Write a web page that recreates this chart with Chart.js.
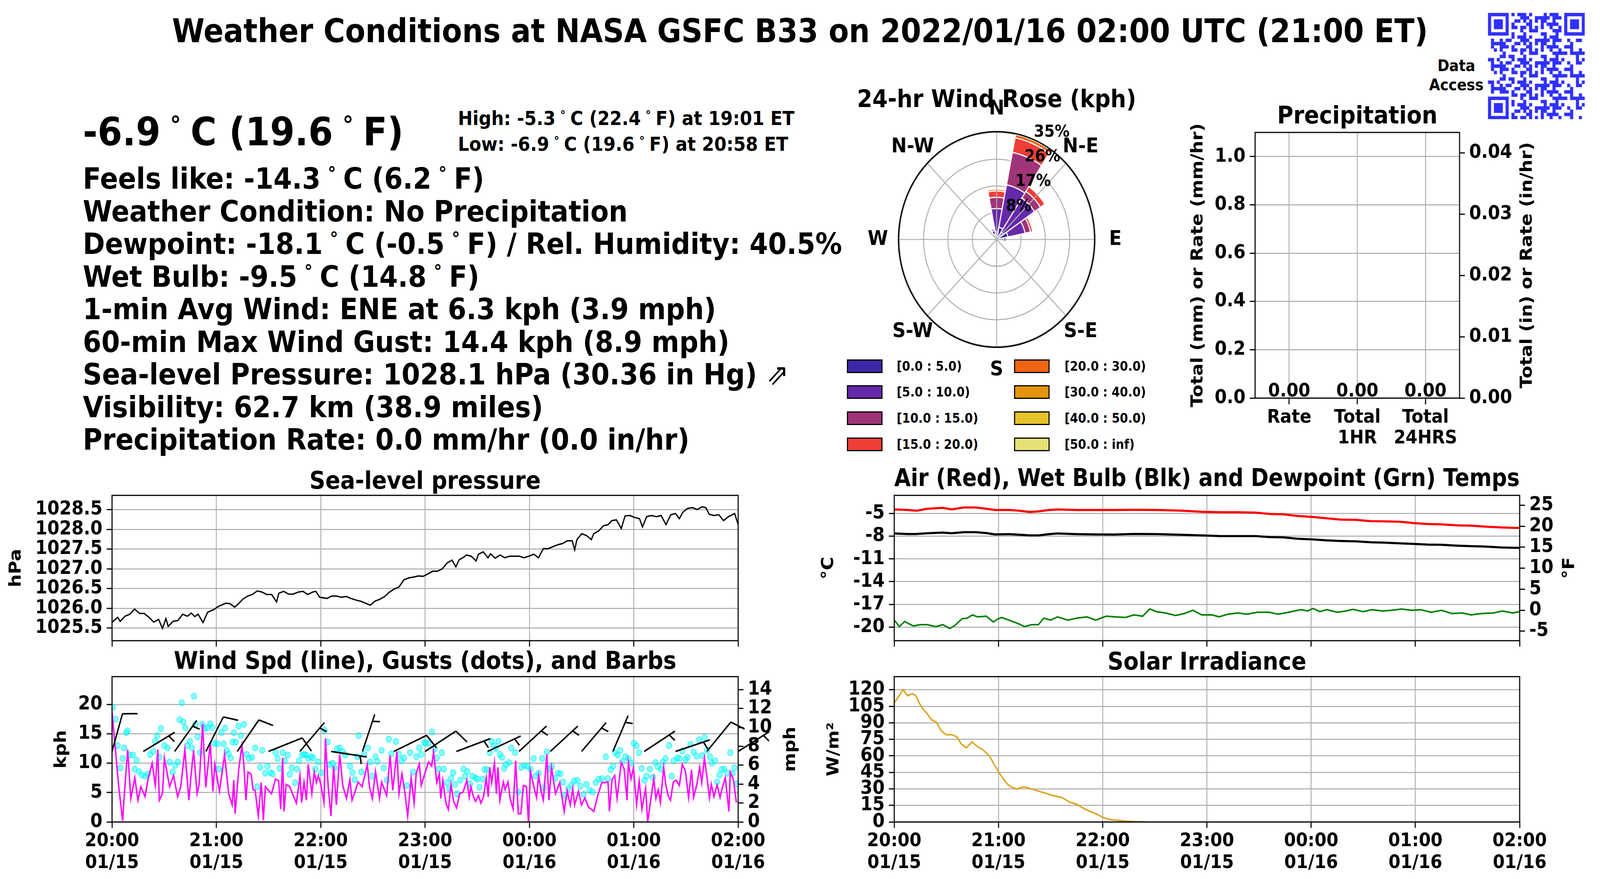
<!DOCTYPE html>
<html>
<head>
<meta charset="utf-8">
<script src="https://cdn.jsdelivr.net/npm/chart.js@4.4.1/dist/chart.umd.min.js"></script>
<style>
  html, body { margin: 0; padding: 0; overflow: hidden; background: #fff; }
  #wrap { position: relative; overflow: hidden; width: 0; height: 0; }
  #page { position: absolute; left: 0; top: 0; width: 4500px; height: 2250px; transform-origin: 0 0;
          font-family: 'DejaVu Sans', sans-serif; font-weight: bold; color: #000; background: #fff; }
  canvas { position: absolute; }
  .t { position: absolute; white-space: nowrap; line-height: 1; }
  .dg { font-size: .62em; vertical-align: .5em; margin: 0 .43em; }
  .lg { position: absolute; width: 94px; height: 29px; border: 3px solid #000; }
  .lt { position: absolute; font-size: 33px; line-height: 1; white-space: nowrap; }
</style>
</head>
<body>
<div id="wrap">
<div id="page">

<div class="t" style="left:0;top:38px;width:4500px;text-align:center;font-size:83px">Weather Conditions at NASA GSFC B33 on 2022/01/16 02:00 UTC (21:00 ET)</div>

<div class="t" style="left:233px;top:288px;font-size:100px">-6.9<span class="dg">°</span>C (19.6<span class="dg">°</span>F)</div>
<div class="t" style="left:1288px;top:279px;font-size:49.5px">High: -5.3<span class="dg">°</span>C (22.4<span class="dg">°</span>F) at 19:01 ET</div>
<div class="t" style="left:1288px;top:345px;font-size:49.5px">Low: -6.9<span class="dg">°</span>C (19.6<span class="dg">°</span>F) at 20:58 ET</div>

<div class="t" style="left:233px;top:420px;font-size:75px">Feels like: -14.3<span class="dg">°</span>C (6.2<span class="dg">°</span>F)</div>
<div class="t" style="left:233px;top:504px;font-size:75px">Weather Condition: No Precipitation</div>
<div class="t" style="left:233px;top:587px;font-size:75px">Dewpoint: -18.1<span class="dg">°</span>C (-0.5<span class="dg">°</span>F) / Rel. Humidity: 40.5%</div>
<div class="t" style="left:233px;top:671px;font-size:75px">Wet Bulb: -9.5<span class="dg">°</span>C (14.8<span class="dg">°</span>F)</div>
<div class="t" style="left:233px;top:754px;font-size:75px">1-min Avg Wind: ENE at 6.3 kph (3.9 mph)</div>
<div class="t" style="left:233px;top:838px;font-size:75px">60-min Max Wind Gust: 14.4 kph (8.9 mph)</div>
<div class="t" style="left:233px;top:921px;font-size:75px">Sea-level Pressure: 1028.1 hPa (30.36 in Hg) <span style="font-weight:normal">&#8663;</span></div>
<div class="t" style="left:233px;top:1005px;font-size:75px">Visibility: 62.7 km (38.9 miles)</div>
<div class="t" style="left:233px;top:1088px;font-size:75px">Precipitation Rate: 0.0 mm/hr (0.0 in/hr)</div>

<div class="t" style="left:3946px;top:144px;width:300px;text-align:center;font-size:40px;line-height:49px;white-space:normal">Data<br>Access</div>
<canvas id="qr" width="272" height="272" style="left:4185px;top:33px"></canvas>

<canvas id="cPrecip" width="1040" height="920" style="left:3300px;top:230px"></canvas>
<canvas id="cRose" width="760" height="760" style="left:2423px;top:233px"></canvas>
<div class="t" style="left:2203px;top:222px;width:1200px;text-align:center;font-size:62px">24-hr Wind Rose (kph)</div>
<div id="roseLegend"></div>

<canvas id="cPress" width="2390" height="520" style="left:0;top:1180px"></canvas>
<canvas id="cWind" width="2390" height="585" style="left:0;top:1665px"></canvas>
<canvas id="cTemp" width="2220" height="520" style="left:2280px;top:1180px"></canvas>
<canvas id="cSolar" width="2220" height="585" style="left:2280px;top:1665px"></canvas>

</div>
</div>
<script>
// stretch the 4500x2250 page over the whole viewport we are given
const SX = window.innerWidth / 4500, SY = window.innerHeight / 2250;
const wrap = document.getElementById('wrap');
wrap.style.width = window.innerWidth + 'px';
wrap.style.height = window.innerHeight + 'px';
document.getElementById('page').style.transform = 'scale(' + SX + ',' + SY + ')';

// ---------- DATA ----------
const hourTicks = [0, 60, 120, 180, 240, 300, 360];          // minutes after 20:00 01/15
const hourLabels = ['20:00', '21:00', '22:00', '23:00', '00:00', '01:00', '02:00'];
const dateLabels = ['01/15', '01/15', '01/15', '01/15', '01/16', '01/16', '01/16'];

// sea-level pressure [minute, hPa]
const pressure = [
  [0,1025.65],[3.3,1025.77],[4.7,1025.67],[7.5,1025.80],[10.2,1025.85],[13,1025.98],[15.8,1025.87],[18.5,1025.87],
  [21.3,1025.77],[24,1025.65],[26.8,1025.72],[29,1025.49],[31,1025.74],[32.3,1025.54],[35.1,1025.67],[37.9,1025.69],
  [40.6,1025.85],[43.4,1025.80],[45.6,1025.88],[47.6,1025.79],[49.5,1025.85],[52.3,1025.64],[55,1025.90],[58.6,1025.97],
  [60.5,1026.03],[62.8,1026.08],[65.5,1026.13],[67.7,1026.12],[70.5,1026.03],[72.4,1026.10],[75.2,1026.23],[78,1026.31],
  [80.7,1026.35],[83.5,1026.44],[86.3,1026.41],[89,1026.35],[91.8,1026.35],[94.6,1026.16],[95.9,1026.38],[98.7,1026.43],
  [101.5,1026.36],[104.2,1026.36],[107,1026.41],[109.8,1026.43],[112.5,1026.35],[115.3,1026.41],[117.2,1026.43],[119.4,1026.28],
  [123.6,1026.25],[126.3,1026.31],[129.1,1026.31],[131.9,1026.28],[134.6,1026.30],[137.4,1026.25],[140.2,1026.21],[142.9,1026.18],
  [145.7,1026.13],[148.5,1026.08],[151.2,1026.18],[154,1026.23],[156.8,1026.30],[159.5,1026.41],[162.3,1026.49],[165,1026.54],
  [167.8,1026.72],[170.6,1026.77],[173.3,1026.79],[176.1,1026.82],[178.9,1026.81],[181.6,1026.87],[184.4,1026.94],[187.2,1026.94],
  [189.9,1027.00],[192.7,1027.15],[195.5,1027.22],[197.7,1027.05],[199.6,1027.23],[202.4,1027.30],[203.8,1027.35],[206.5,1027.32],
  [209.3,1027.20],[210.7,1027.37],[213.4,1027.43],[216.2,1027.28],[217.6,1027.38],[220.3,1027.27],[223.1,1027.35],[225.9,1027.28],
  [228.6,1027.32],[231.4,1027.32],[234.2,1027.32],[236.9,1027.28],[239.7,1027.32],[242.5,1027.37],[245.2,1027.28],[248,1027.51],
  [250.8,1027.51],[253.5,1027.56],[256.3,1027.61],[259.1,1027.64],[261.8,1027.71],[264.6,1027.71],[266,1027.48],[267.3,1027.74],
  [270.1,1027.89],[272.9,1027.84],[275.6,1027.74],[277,1027.89],[279.8,1027.96],[282.6,1028.09],[285.3,1028.12],[287.3,1028.22],
  [290,1028.24],[292.8,1028.02],[295,1028.34],[297.8,1028.35],[300.5,1028.30],[303.3,1028.27],[305,1028.06],[307.4,1028.32],
  [310.2,1028.35],[313,1028.32],[315.7,1028.35],[318.5,1028.12],[321.3,1028.37],[324,1028.40],[326.2,1028.27],[328.2,1028.43],
  [330.9,1028.53],[333.7,1028.55],[336.5,1028.50],[339.2,1028.57],[341.4,1028.55],[343.4,1028.38],[346.1,1028.35],[348.9,1028.37],
  [351.6,1028.22],[354.4,1028.32],[358,1028.40],[360,1028.12]
];
const pressTicks = [1025.5, 1026.0, 1026.5, 1027.0, 1027.5, 1028.0, 1028.5];

// 1-min wind speed [minute, kph]
const windSpd = [
  [0,18.8],[3.8,6.2],[6.1,0.2],[7.3,5.6],[9,12.3],[10.8,4],[13.1,7.5],[14.9,3.7],[16.6,6],[19,4.3],[20.8,7.4],[23.1,10],
  [24.9,6.2],[26.3,12.3],[27.2,3.7],[29,4.8],[30.1,10.9],[33.1,6],[35.4,7.9],[37.7,4.3],[39.5,6],[41.9,12.3],[44.2,3.7],
  [45.4,7.8],[46.9,12.2],[48.9,4.8],[50.1,6.4],[52.1,16.7],[53.9,5.9],[56.5,13.4],[58,5.2],[59.1,9.8],[61.8,5.2],[64.7,11.5],
  [67.1,4.8],[69.1,2.9],[70,7.1],[70.8,1.4],[72.9,9.1],[74.7,13],[75.8,9.8],[77,3.7],[78.2,8.5],[80,8.1],[81.1,5.5],[82.3,5.4],
  [84.1,1],[85.8,6.7],[87,0.3],[88.2,6],[89.9,5.4],[91.7,4.8],[94,7.3],[95.8,7],[97,2.2],[98.1,10.9],[98.9,1.8],[100.1,6.4],
  [102.2,6],[104.6,4.2],[106,3.2],[108.1,7.9],[109,3.3],[110.4,6.8],[111.8,3.7],[112.8,9.8],[114.9,4.8],[116.3,8.5],[117.5,6.7],
  [118.6,7.9],[119.8,6.7],[121.9,3.3],[122.7,14.2],[124.3,6],[125.9,1],[127.4,9.5],[129,2.9],[130.9,11.5],[132.7,6.2],[134.8,4],
  [136.8,7.2],[138,3.7],[139.7,5.1],[141.5,6.8],[143.8,6],[146.8,9.8],[148,6],[149.7,4],[151.5,8.6],[153.8,4],[155,6.8],
  [157.9,4.5],[159.9,11.3],[161.4,5.4],[163.8,12],[165,4.8],[166.7,8.2],[168.5,4.8],[170,1],[172,7.5],[173.7,3.2],[174.9,8.3],
  [176.7,9.9],[177.8,6.2],[180,8.4],[182,10.2],[183.8,9.5],[184.9,12],[186.7,6.7],[188.2,8.2],[189,4],[190.2,7.1],[192,3.2],
  [193.4,2.1],[194.9,6.4],[196.4,3.5],[198.1,2.4],[199.9,4.8],[201.9,5.1],[204,7.1],[205.4,4.2],[206.3,6],[207.8,4.3],[209,3.5],
  [210.7,4.5],[212.1,3.2],[213.6,4.3],[215.2,7.5],[216.3,4.3],[217.2,9.3],[218.3,6.7],[219.9,10.1],[221,4.8],[221.9,9.3],[223,3.7],
  [225,6.8],[226,5.5],[227.7,6.8],[228.9,4],[230.6,2.2],[232.1,10.4],[233.6,1.4],[235.1,1.4],[236.5,6.2],[238.3,6],[239.4,0],
  [240.6,8.6],[243,5.4],[244.1,4.1],[245.3,7.9],[246.5,5.5],[248,3.7],[250,11.5],[251.2,3.7],[252.7,9.3],[255,4.8],[257.4,6.7],
  [260,1.8],[261.7,5.3],[263.5,2.9],[264.9,5.7],[266,2.9],[268.2,5.2],[269.9,2.9],[271.9,4.1],[274,2.5],[275.4,2.2],[277,1.8],
  [279.3,4.5],[281.6,6.7],[283.4,6.7],[285.2,6.8],[286,1.8],[287.5,7.2],[289,7.9],[290.4,4],[292.8,10.1],[294.5,9],[296.1,3.7],
  [296.9,10.1],[298.4,7.3],[299.8,9.2],[301.6,2.9],[303.1,7],[304.7,2.2],[306.8,5.7],[308,0],[309.8,3.9],[311.5,7.4],[312.7,4],
  [314.1,5.5],[315.3,3.3],[317.2,9.3],[318.3,6.5],[319.7,4.5],[321.1,3.7],[322.7,6.8],[324.4,7.1],[326.2,6.2],[327.9,9.8],
  [329.7,8.6],[331.5,4.1],[333.2,8.9],[334.4,4.2],[336.2,6.3],[337.9,9.3],[339.1,6.7],[340.6,10.9],[342,7.8],[343.5,4.1],
  [344.6,6.4],[346.1,4.3],[347.9,6.3],[349.6,4.2],[350.8,5.7],[352.6,7.5],[354.7,1.8],[355.5,8.5],[357.3,7.2],[359,3.3]
];

// wind gusts [minute, kph]
const windGust = [
  [0.5,19.5],[2,17.5],[3.2,13],[4.9,9.2],[6.1,10.8],[7,12.6],[8.2,15.2],[9,15.5],[10.2,11.4],[12,11.4],[13.1,9],[14.1,10.5],
  [15.5,8.6],[17.2,8],[19,7.8],[20.7,8.2],[21.9,11.5],[23.7,12],[24.9,13.7],[26,14.7],[27.2,11],[28.1,15.9],[30.1,13],[31.9,12.6],
  [33.1,10.2],[34.8,8.5],[36.3,9.6],[37.8,10.2],[38.9,17.4],[40.1,20.3],[41,17],[42.2,16],[43.4,13],[44.8,13.7],[46,12.6],
  [47.1,21.4],[48,16.6],[49.2,14.5],[50.6,11.8],[52,16.6],[53.2,15.9],[54.8,16],[56.5,16.7],[57.7,16.1],[58.9,13.4],[60.6,13.3],
  [61.4,9],[62.9,15.2],[64.1,13.3],[65,16],[65.9,12.2],[67,11.6],[68.2,10.9],[69.4,13.6],[70,15.2],[71.2,13.6],[72.7,16.3],
  [74.1,14.7],[75.8,16.6],[77.4,11.5],[78.8,10.8],[80.5,11],[82.3,12.6],[83.5,6],[85.2,9.3],[86.4,12.2],[88.2,8.3],[89.3,9.5],
  [91.1,8.4],[92.3,8.2],[94,11.8],[95.2,10.8],[96.4,9.1],[98.1,11.8],[99.3,10.4],[101.1,11.4],[102.2,8.1],[103.4,9.2],[105.2,6.7],
  [106.3,9],[107.5,10.4],[109.3,11.4],[110.4,11.5],[111.7,11.4],[112.8,10.8],[114.5,11.1],[115.7,10.9],[116.9,9],[118.6,10.2],
  [120.4,8.4],[122.2,15.6],[123.9,13.6],[125.1,9.8],[126.8,10],[128,9.2],[129.4,12.4],[130.9,12.6],[132.6,12],[134.1,11.4],
  [136.8,9.5],[138.3,8.4],[139.5,7.2],[141,11.1],[141.8,14.7],[143.3,8.5],[145,11.5],[147,12.6],[148.5,10.2],[149.7,7.8],
  [151.5,11.1],[152.6,10.3],[155,12.2],[156.2,9.2],[158,7.1],[159.1,14.1],[160.6,11.6],[163.2,13.7],[165,11.5],[166.5,10.4],
  [167.9,10.9],[169.6,6.2],[171.4,11.8],[173.2,8.5],[174.9,11.1],[176.7,12.6],[177.8,11.5],[179.6,13.5],
  [180.2,13.4],[182,13.4],[184,15.3],[185.5,12.4],[186.7,10.9],[187.8,9],[189.6,11.8],[190.8,9],[192.5,6.7],[193.7,5.7],
  [194.9,7.4],[196.1,8.4],[197.2,6.4],[198.4,4.8],[200.2,7.1],[202,9],[203.1,7.8],[204.3,8.6],[205.8,6.5],[207.2,7.8],[209,7.5],
  [210.1,7.3],[211.3,5.9],[213,7.3],[214.2,8.9],[215.6,8.9],[217.2,11.8],[218.3,13.7],[219.5,13],[220.7,12.5],[222.2,13.7],
  [223,11.5],[224.2,11],[225.4,9.1],[226.5,9.8],[228.3,10.1],[229.5,12.6],[231.8,11.8],[233.6,5.1],[235.3,9.3],[237.1,9.6],
  [238.8,9.5],[240.6,9],[242.4,10.8],[243.5,7.8],[245.3,8.3],[247.3,10.8],[248.2,5.8],[250,11.9],[251.5,9],[252.9,9.4],
  [254.7,7.4],[256.4,8.3],[257.8,8.2],[259.4,6.8],[260.5,4.5],[262.3,5.7],[264.1,6.3],[265.8,7],[267.6,7.1],[269.3,6.1],
  [271.1,4.7],[272.8,6.4],[274.6,5.4],[276.4,5.1],[278.1,6.7],[279.9,7.3],[281.6,7.4],[283.9,11.1],[285.1,7.4],[286.7,8.9],
  [288.1,9.5],[289.3,11.8],[290.7,11.4],[292.2,12.2],[293.4,10.3],[295.1,11.1],[296.9,10.8],[298.6,10],[300,13.4],[301.5,13],
  [303,11.8],[304.5,9.1],[306.2,7.1],[307.4,7.8],[309.2,9],[310.9,7.6],[312.5,10.1],[313.9,9.4],[315.6,9],[316.8,10.2],
  [318.3,10.8],[320.3,13],[321.8,7.8],[323,10.4],[325,10.9],[326.2,10.8],[328,12.1],[329.7,10.6],[330.9,11],[332.6,13.2],
  [334.4,11.9],[336.2,11.2],[337.6,14],[339.4,11.3],[340.8,14.4],[342.2,12.2],[343.8,11.1],[344.9,10],[346.7,10.4],[347.9,6.8],
  [349.3,8],[350.5,8.9],[352,9],[353.8,8.3],[355.5,11.8],[356.7,8.2],[357.8,9.2],[359,6.5]
];

// wind barbs, one every 18 minutes: direction wind comes from (deg) and speed (kph)
const barbMin = [0, 18, 36, 54, 72, 90, 108, 126, 144, 162, 180, 198, 216, 234, 252, 270, 288, 306, 324, 342, 360];
const barbDir = [17, 61, 38, 29, 37, 70, 43, 98, 20, 66, 59, 71, 67, 50, 50, 43, 25, 59, 73, 42, 60];
const barbSpd = [10, 5, 5, 10, 10, 10, 5, 5, 5, 10, 10, 5, 5, 5, 5, 5, 5, 5, 5, 10, 5];
const barbBaseKph = 12;
const kphTicks = [0, 5, 10, 15, 20];
const mphTicks = [0, 2, 4, 6, 8, 10, 12, 14];

// temperatures [minute, degC]
const airTemp = [
  [0,-4.45],[8,-4.53],[13,-4.62],[19,-4.36],[28,-4.24],[33,-4.45],[40,-4.19],[47,-4.19],[53,-4.36],[58,-4.53],[66,-4.53],
  [72,-4.62],[78,-4.79],[83,-4.71],[89,-4.53],[94,-4.45],[105,-4.53],[116,-4.53],[127,-4.53],[138,-4.50],[152,-4.53],[166,-4.62],
  [177,-4.76],[188,-4.83],[199,-4.83],[208,-4.88],[216,-5.05],[224,-5.10],[232,-5.31],[241,-5.45],[249,-5.62],[257,-5.79],
  [266,-5.83],[274,-6.00],[282,-6.03],[291,-6.08],[299,-6.26],[307,-6.38],[315,-6.43],[324,-6.55],[332,-6.60],[340,-6.72],
  [349,-6.83],[357,-6.89],[360,-6.89]
];
const wetBulb = [
  [0,-7.63],[8,-7.70],[13,-7.69],[19,-7.60],[28,-7.51],[33,-7.60],[40,-7.46],[47,-7.46],[53,-7.58],[58,-7.76],[66,-7.72],
  [72,-7.80],[78,-7.89],[83,-7.89],[89,-7.72],[94,-7.63],[105,-7.72],[116,-7.76],[127,-7.77],[138,-7.69],[152,-7.72],[166,-7.81],
  [177,-7.89],[188,-7.98],[199,-7.98],[208,-7.98],[216,-8.10],[224,-8.15],[232,-8.32],[241,-8.41],[249,-8.55],[257,-8.62],
  [266,-8.67],[274,-8.79],[282,-8.84],[291,-8.93],[299,-9.01],[307,-9.10],[315,-9.13],[324,-9.24],[332,-9.31],[340,-9.36],
  [349,-9.48],[357,-9.53],[360,-9.53]
];
const dewPoint = [
  [0,-19.09],[3,-19.95],[6,-19.26],[8,-19.52],[11,-19.86],[15,-19.69],[19,-19.69],[24,-19.95],[28,-19.69],[32,-20.21],
  [35,-19.78],[39,-18.91],[42,-18.83],[45,-18.40],[48,-18.66],[53,-18.57],[57,-19.34],[60,-18.91],[62,-18.74],[66,-19.09],
  [71,-19.52],[75,-19.95],[79,-19.69],[83,-19.69],[86,-18.83],[90,-19.09],[94,-18.66],[100,-19.09],[105,-18.83],[111,-18.66],
  [116,-19.09],[122,-18.57],[127,-18.66],[133,-18.74],[138,-18.40],[143,-18.57],[147,-17.62],[151,-17.97],[156,-18.14],
  [162,-18.48],[167,-18.22],[172,-17.79],[177,-18.40],[183,-18.40],[187,-18.66],[192,-18.31],[198,-18.14],[203,-18.31],
  [209,-18.05],[216,-18.05],[221,-18.31],[227,-18.05],[234,-17.71],[238,-17.88],[241,-17.54],[245,-17.97],[249,-17.71],
  [255,-18.05],[260,-17.88],[264,-17.67],[270,-17.97],[275,-17.71],[281,-17.88],[286,-17.79],[292,-17.62],[298,-17.79],
  [303,-17.71],[309,-18.05],[315,-17.79],[321,-18.22],[327,-18.14],[332,-18.40],[338,-18.22],[345,-18.14],[350,-17.88],
  [356,-18.14],[360,-17.97]
];
const tempCTicks = [-20, -17, -14, -11, -8, -5];
const tempFTicks = [-5, 0, 5, 10, 15, 20, 25];

// solar irradiance [minute, W/m2]
const solar = [
  [0,107.9],[2.8,114.5],[5,120.1],[7.7,114.5],[10.5,116.5],[12.5,114.5],[14.4,107.9],[16.6,102.6],[18.8,98.6],[21.6,92.6],
  [24.3,90.6],[27.1,82.6],[29.9,79.2],[33.2,79.2],[36,77.3],[38.7,70.6],[41.5,67.3],[44.8,72.6],[48.4,67.9],[51.2,65.3],
  [54.8,59.9],[58.1,50.6],[60.9,43.3],[65,34.6],[67.8,31.3],[70.6,30],[74.7,32],[78.9,30],[83,28],[87.2,26],[91.3,24],
  [96.8,22],[101,18],[105.1,16],[107.9,13.3],[112.1,10],[116.2,7.3],[120.4,4],[124.5,2],[130,1.3],[134.2,0.7],[138.4,0.3],[145,0]
];
const solarTicks = [0, 15, 30, 45, 60, 75, 90, 105, 120];

// precipitation
const precipCats = [['Rate'], ['Total', '1HR'], ['Total', '24HRS']];
const precipVals = [0, 0, 0];
const precipTicks = [0, 0.2, 0.4, 0.6, 0.8, 1.0];
const precipInTicks = [0, 0.01, 0.02, 0.03, 0.04];

// wind rose: 16 directions, percent of time per speed bin
const roseDirs = ['N','NNE','NE','ENE','E','ESE','SE','SSE','S','SSW','SW','WSW','W','WNW','NW','NNW'];
const roseBinNames = ['[0.0 : 5.0)', '[5.0 : 10.0)', '[10.0 : 15.0)', '[15.0 : 20.0)',
                      '[20.0 : 30.0)', '[30.0 : 40.0)', '[40.0 : 50.0)', '[50.0 : inf)'];
const roseColors = ['#3d27a6', '#6529a9', '#a03478', '#ef3e37', '#f06512', '#e4940a', '#e5c42a', '#e5e176'];
const bin0_5   = [2.5, 4.1, 3.0, 4.2, 2.5, 0, 0, 0, 0, 0, 0, 0, 0, 0, 0, 1.8];
const bin5_10  = [7.7, 14.3, 13.5, 6.3, 0.9, 0, 0, 0, 0, 0, 0, 0, 0, 0, 0, 1.2];
const bin10_15 = [3.7, 10.9, 2.6, 2.0, 0.3, 0, 0, 0, 0, 0, 0, 0, 0, 0, 0, 0.6];
const bin15_20 = [2.1, 4.9, 1.9, 0.8, 0, 0, 0, 0, 0, 0, 0, 0, 0, 0, 0, 0.4];
const bin20_30 = [0.6, 1.1, 0, 0, 0, 0, 0, 0, 0, 0, 0, 0, 0, 0, 0, 0];
const bin30_40 = [0, 0, 0, 0, 0, 0, 0, 0, 0, 0, 0, 0, 0, 0, 0, 0];
const bin40_50 = [0, 0, 0, 0, 0, 0, 0, 0, 0, 0, 0, 0, 0, 0, 0, 0];
const bin50_inf = [0, 0, 0, 0, 0, 0, 0, 0, 0, 0, 0, 0, 0, 0, 0, 0];
const roseMax = 35.3;
const roseTicks = [8.825, 17.65, 26.475, 35.3];
const roseTickLabels = ['8%', '17%', '26%', '35%'];
const compassLabels = ['N', 'N-E', 'E', 'S-E', 'S', 'S-W', 'W', 'N-W'];

// ---------- STYLE ----------
const GRID = '#b0b0b0';
const FONT = "'DejaVu Sans', sans-serif";
Chart.defaults.font.family = FONT;
Chart.defaults.font.weight = 'bold';
Chart.defaults.font.size = 48;
Chart.defaults.color = '#000';
Chart.defaults.animation = false;
Chart.defaults.devicePixelRatio = (window.devicePixelRatio || 1) * Math.max(SX, SY);
Chart.defaults.plugins.legend.display = false;
Chart.defaults.plugins.tooltip.enabled = false;

const xy = arr => arr.map(p => ({x: p[0], y: p[1]}));
const setTicks = list => s => { s.ticks = list.map(v => ({value: v})); };

// black box round the plot area
const frame = {
  id: 'frame',
  afterDatasetsDraw(chart) {
    const {ctx, chartArea: a} = chart;
    ctx.save();
    ctx.strokeStyle = '#000';
    ctx.lineWidth = 3;
    ctx.strokeRect(a.left, a.top, a.right - a.left, a.bottom - a.top);
    ctx.restore();
  }
};

// right axis titles read bottom-to-top like the left ones
const sideTitle = {
  id: 'sideTitle',
  afterDraw(chart, args, opts) {
    if (!opts.text) return;
    const s = chart.scales[opts.axis];
    const ctx = chart.ctx;
    ctx.save();
    ctx.translate(s.right - opts.offset, (s.top + s.bottom) / 2);
    ctx.rotate(-Math.PI / 2);
    ctx.font = 'bold 47px ' + FONT;
    ctx.fillStyle = '#000';
    ctx.textAlign = 'center';
    ctx.textBaseline = 'middle';
    ctx.fillText(opts.text, 0, 0);
    ctx.restore();
  }
};

function timeAxis(showLabels) {
  return {
    type: 'linear', min: 0, max: 360,
    afterBuildTicks: setTicks(hourTicks),
    afterFit: s => { s.height = showLabels ? 146 : 60; },
    border: {display: false},
    grid: {color: GRID, lineWidth: 2.7, tickLength: 15, tickColor: '#000', tickWidth: 3},
    ticks: {
      display: showLabels, padding: 6, maxRotation: 0, autoSkip: false,
      font: {size: 48, lineHeight: 1.17},
      callback: (v, i) => [hourLabels[i], dateLabels[i]]
    }
  };
}

function valueAxis(o) {
  return {
    type: 'linear', position: o.pos || 'left', min: o.min, max: o.max,
    afterBuildTicks: setTicks(o.ticks),
    afterFit: s => { s.width = o.width; },
    border: {display: false},
    grid: {color: GRID, lineWidth: 2.7, tickLength: 15, tickColor: '#000', tickWidth: 3,
           drawOnChartArea: o.gridOn !== false},
    ticks: {padding: 12, autoSkip: false, font: {size: 49}, callback: o.fmt || (v => String(v))},
    title: o.title ? {display: true, text: o.title, font: {size: 47, lineHeight: 1.2},
                      padding: {top: o.titlePad, bottom: 0}} : {display: false}
  };
}

function plotTitle(text, top, bottom) {
  return {display: true, text, fullSize: false, font: {size: 62, lineHeight: 1},
          padding: {top, bottom}, color: '#000'};
}

// ---------- PRESSURE ----------
new Chart(document.getElementById('cPress'), {
  type: 'line',
  data: {datasets: [{data: xy(pressure), borderColor: '#000', borderWidth: 3.5, pointRadius: 0, tension: 0}]},
  options: {
    responsive: false,
    layout: {padding: {left: 0, right: 314, top: 0, bottom: 0}},
    plugins: {title: plotTitle('Sea-level pressure', 24, 2)},
    scales: {
      x: timeAxis(false),
      y: valueAxis({min: 1025.18, max: 1028.86, ticks: pressTicks, width: 315, fmt: v => v.toFixed(1),
                    title: 'hPa', titlePad: 18})
    }
  },
  plugins: [frame]
});

// ---------- WIND ----------
const barbs = {
  id: 'barbs',
  afterDatasetsDraw(chart) {
    const {ctx, scales: {x, y}} = chart;
    const L = 101, h = 0.4 * L, w = 0.25 * L, sp = 0.125 * L;
    ctx.save();
    ctx.strokeStyle = '#000';
    ctx.lineWidth = 4;
    barbMin.forEach((m, i) => {
      const bx = x.getPixelForValue(m), by = y.getPixelForValue(barbBaseKph);
      const a = barbDir[i] * Math.PI / 180;
      const ux = Math.sin(a), uy = -Math.cos(a);
      const px = -uy, py = ux;
      const tx = bx + ux * L, ty = by + uy * L;
      ctx.beginPath();
      ctx.moveTo(bx, by);
      ctx.lineTo(tx, ty);
      const full = Math.floor(barbSpd[i] / 10);
      const half = barbSpd[i] % 10 >= 5;
      let off = 0;
      for (let k = 0; k < full; k++) {
        const sx = tx - ux * off, sy = ty - uy * off;
        ctx.moveTo(sx, sy);
        ctx.lineTo(sx + px * h + ux * w / 2, sy + py * h + uy * w / 2);
        off += sp;
      }
      if (half) {
        if (full === 0) off += 1.5 * sp;
        const sx = tx - ux * off, sy = ty - uy * off;
        ctx.moveTo(sx, sy);
        ctx.lineTo(sx + px * h / 2 + ux * w / 4, sy + py * h / 2 + uy * w / 4);
      }
      ctx.stroke();
    });
    ctx.restore();
  }
};

new Chart(document.getElementById('cWind'), {
  type: 'line',
  data: {datasets: [
    {data: xy(windSpd), borderColor: '#ff00ff', borderWidth: 4, pointRadius: 0, tension: 0, yAxisID: 'y'},
    {type: 'scatter', data: xy(windGust), showLine: false, pointRadius: 7.5,
     backgroundColor: 'rgba(0,255,255,0.45)', borderColor: 'rgba(0,235,235,0.6)', borderWidth: 2.5, yAxisID: 'y'}
  ]},
  options: {
    responsive: false,
    layout: {padding: {left: 0, right: 129, top: 0, bottom: 0}},
    plugins: {
      title: plotTitle('Wind Spd (line), Gusts (dots), and Barbs', 0, 5),
      sideTitle: {axis: 'y2', text: 'mph', offset: 37}
    },
    scales: {
      x: timeAxis(true),
      y: valueAxis({min: 0, max: 24.73, ticks: kphTicks, width: 315, title: 'kph', titlePad: 145}),
      y2: valueAxis({pos: 'right', min: 0, max: 24.73 / 1.60934, ticks: mphTicks, width: 185, gridOn: false})
    }
  },
  plugins: [frame, barbs, sideTitle]
});

// ---------- TEMPERATURES ----------
const cMin = -21.81, cMax = -2.59;
new Chart(document.getElementById('cTemp'), {
  type: 'line',
  data: {datasets: [
    {data: xy(airTemp), borderColor: '#ff0000', borderWidth: 5.5, pointRadius: 0, tension: 0},
    {data: xy(wetBulb), borderColor: '#000000', borderWidth: 5.5, pointRadius: 0, tension: 0},
    {data: xy(dewPoint), borderColor: '#008000', borderWidth: 4, pointRadius: 0, tension: 0}
  ]},
  options: {
    responsive: false,
    layout: {padding: {left: 0, right: 41, top: 0, bottom: 0}},
    plugins: {
      title: plotTitle('Air (Red), Wet Bulb (Blk) and Dewpoint (Grn) Temps', 17, 9),
      sideTitle: {axis: 'y2', text: '°F', offset: 44}
    },
    scales: {
      x: timeAxis(false),
      y: valueAxis({min: cMin, max: cMax, ticks: tempCTicks, width: 235, title: '°C', titlePad: 23}),
      y2: valueAxis({pos: 'right', min: cMin * 1.8 + 32, max: cMax * 1.8 + 32, ticks: tempFTicks, width: 185, gridOn: false})
    }
  },
  plugins: [frame, sideTitle]
});

// ---------- SOLAR ----------
new Chart(document.getElementById('cSolar'), {
  type: 'line',
  data: {datasets: [{data: xy(solar), borderColor: '#daa520', borderWidth: 4, pointRadius: 0, tension: 0}]},
  options: {
    responsive: false,
    layout: {padding: {left: 0, right: 226, top: 0, bottom: 0}},
    plugins: {title: plotTitle('Solar Irradiance', 2, 3)},
    scales: {
      x: timeAxis(true),
      y: valueAxis({min: 0, max: 131.9, ticks: solarTicks, width: 235, title: 'W/m²', titlePad: 38})
    }
  },
  plugins: [frame]
});

// ---------- PRECIPITATION ----------
const valueLabels = {
  id: 'valueLabels',
  afterDatasetsDraw(chart) {
    const ctx = chart.ctx;
    ctx.save();
    ctx.font = 'bold 48px ' + FONT;
    ctx.fillStyle = '#000';
    ctx.textAlign = 'center';
    ctx.textBaseline = 'alphabetic';
    chart.getDatasetMeta(0).data.forEach((bar, i) => ctx.fillText(precipVals[i].toFixed(2), bar.x, bar.y - 4));
    ctx.restore();
  }
};

new Chart(document.getElementById('cPrecip'), {
  type: 'bar',
  data: {labels: precipCats, datasets: [{data: precipVals, backgroundColor: '#1f77b4', yAxisID: 'y'}]},
  options: {
    responsive: false,
    layout: {padding: {left: 0, right: 10, top: 0, bottom: 0}},
    plugins: {
      title: plotTitle('Precipitation', 39, 8),
      sideTitle: {axis: 'y2', text: 'Total (in) or Rate (in/hr)', offset: 34}
    },
    scales: {
      x: {
        type: 'category', offset: true,
        afterFit: s => { s.height = 131; },
        border: {display: false},
        grid: {offset: false, color: GRID, lineWidth: 2.7, tickLength: 16, tickColor: '#000', tickWidth: 3},
        ticks: {padding: 8, maxRotation: 0, font: {size: 48, lineHeight: 1.1}}
      },
      y: valueAxis({min: 0, max: 1.1, ticks: precipTicks, width: 230, fmt: v => v.toFixed(1),
                    title: 'Total (mm) or Rate (mm/hr)', titlePad: 42}),
      y2: valueAxis({pos: 'right', min: 0, max: 1.1 / 25.4, ticks: precipInTicks, width: 225, gridOn: false,
                     fmt: v => v.toFixed(2)})
    }
  },
  plugins: [frame, valueLabels, sideTitle]
});

// ---------- WIND ROSE ----------
const roseBins = [bin0_5, bin5_10, bin10_15, bin15_20, bin20_30, bin30_40, bin40_50, bin50_inf];
// stacked bars: each dataset holds the running total, the inner ones are drawn on top
const roseStack = roseBins.map((_, k) =>
  roseDirs.map((_, d) => roseBins.slice(0, k + 1).reduce((s, b) => s + b[d], 0)));

const roseDeco = {
  id: 'roseDeco',
  afterDatasetsDraw(chart) {
    const r = chart.scales.r, ctx = chart.ctx;
    const cx = r.xCenter, cy = r.yCenter, R = r.drawingArea;
    ctx.save();
    ctx.strokeStyle = GRID;
    ctx.lineWidth = 2.7;
    compassLabels.forEach((lab, i) => {
      const a = i * Math.PI / 4;
      ctx.beginPath();
      ctx.moveTo(cx, cy);
      ctx.lineTo(cx + R * Math.sin(a), cy - R * Math.cos(a));
      ctx.stroke();
    });
    ctx.strokeStyle = '#000';
    ctx.lineWidth = 3.5;
    ctx.beginPath();
    ctx.arc(cx, cy, R + 2, 0, 2 * Math.PI);
    ctx.stroke();
    ctx.fillStyle = '#000';
    ctx.font = 'bold 52px ' + FONT;
    ctx.textAlign = 'center';
    ctx.textBaseline = 'middle';
    compassLabels.forEach((lab, i) => {
      const a = i * Math.PI / 4;
      ctx.fillText(lab, cx + (R + 60) * Math.sin(a), cy - (R + 60) * Math.cos(a));
    });
    ctx.font = 'bold 42px ' + FONT;
    ctx.textAlign = 'left';
    ctx.textBaseline = 'bottom';
    const la = Math.PI / 8;
    roseTicks.forEach((v, i) => {
      const d = r.getDistanceFromCenterForValue(v);
      ctx.fillText(roseTickLabels[i], cx + d * Math.sin(la), cy - d * Math.cos(la));
    });
    ctx.restore();
  }
};

new Chart(document.getElementById('cRose'), {
  type: 'polarArea',
  data: {
    labels: roseDirs,
    datasets: roseStack.map((vals, k) => ({
      label: roseBinNames[k], data: vals, backgroundColor: roseColors[k],
      borderColor: '#ffffff', borderWidth: 3
    }))
  },
  options: {
    responsive: false,
    layout: {padding: 106},
    plugins: {legend: {display: false}},
    scales: {
      r: {
        min: 0, max: roseMax, startAngle: -11.25,
        afterBuildTicks: setTicks([0].concat(roseTicks)),
        ticks: {display: false},
        grid: {circular: true, color: GRID, lineWidth: 2.7},
        angleLines: {display: false},
        pointLabels: {display: false}
      }
    }
  },
  plugins: [roseDeco]
});

// legend for the rose, two columns
(function buildLegend() {
  const host = document.getElementById('roseLegend');
  const rows = [937, 1003, 1070, 1137];
  roseBinNames.forEach((name, k) => {
    const col = Math.floor(k / 4), row = k % 4;
    const box = document.createElement('div');
    box.className = 'lg';
    box.style.left = (col ? 2852 : 2382) + 'px';
    box.style.top = (rows[row] - 17) + 'px';
    box.style.background = roseColors[k];
    host.appendChild(box);
    const lab = document.createElement('div');
    lab.className = 'lt';
    lab.style.left = (col ? 2994 : 2522) + 'px';
    lab.style.top = (rows[row] - 16) + 'px';
    lab.textContent = name;
    host.appendChild(lab);
  });
})();

// ---------- QR-like badge ----------
(function drawBadge() {
  const c = document.getElementById('qr'), g = c.getContext('2d');
  const n = 33, s = c.width / n;
  g.fillStyle = '#fff';
  g.fillRect(0, 0, c.width, c.height);
  g.fillStyle = '#3030ff';
  const inFinder = (r, q) => (r < 8 && q < 8) || (r < 8 && q >= n - 8) || (r >= n - 8 && q < 8);
  const finder = (r0, q0) => {
    for (let r = 0; r < 7; r++) for (let q = 0; q < 7; q++) {
      const ring = Math.max(Math.abs(r - 3), Math.abs(q - 3));
      if (ring !== 2) g.fillRect((q0 + q) * s, (r0 + r) * s, s + 0.5, s + 0.5);
    }
  };
  finder(0, 0); finder(0, n - 7); finder(n - 7, 0);
  for (let r = 0; r < n; r++) for (let q = 0; q < n; q++) {
    if (inFinder(r, q)) continue;
    if (((r * r * 3 + q * 7 + r * q * 5 + (q * q) % 11) % 7) < 3) g.fillRect(q * s, r * s, s + 0.5, s + 0.5);
  }
})();
</script>
</body>
</html>
